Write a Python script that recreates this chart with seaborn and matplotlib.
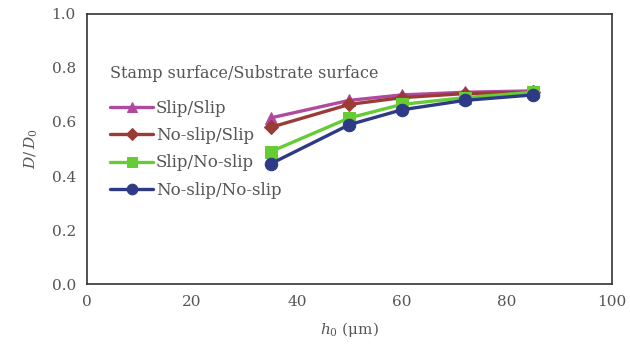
import matplotlib
matplotlib.use("Agg")
import matplotlib.pyplot as plt
import seaborn as sns
import pandas as pd

h0 = [35, 50, 60, 72, 85]
slip_slip = [0.615, 0.680, 0.700, 0.710, 0.715]
noslip_slip = [0.580, 0.665, 0.690, 0.705, 0.710]
slip_noslip = [0.490, 0.615, 0.665, 0.690, 0.710]
noslip_noslip = [0.445, 0.590, 0.645, 0.680, 0.700]
series_names = ["Slip/Slip", "No-slip/Slip", "Slip/No-slip", "No-slip/No-slip"]
legend_title = "Stamp surface/Substrate surface"
x_ticks = [0, 20, 40, 60, 80, 100]
y_ticks = [0.0, 0.2, 0.4, 0.6, 0.8, 1.0]

sns.set_style("white")
plt.rcParams['font.family'] = ['DejaVu Serif']
plt.rcParams['mathtext.fontset'] = 'dejavuserif'

rows = []
for name, vals in zip(series_names, [slip_slip, noslip_slip, slip_noslip, noslip_noslip]):
    for x, y in zip(h0, vals):
        rows.append({"h0": x, "D": y, "series": name})
df = pd.DataFrame(rows)

colors = {"Slip/Slip": "#B04A9E", "No-slip/Slip": "#9A3B36",
          "Slip/No-slip": "#66CC33", "No-slip/No-slip": "#2F3A86"}
markers = {"Slip/Slip": "^", "No-slip/Slip": "D",
           "Slip/No-slip": "s", "No-slip/No-slip": "o"}
msizes = {"Slip/Slip": 8, "No-slip/Slip": 7, "Slip/No-slip": 8, "No-slip/No-slip": 9}

fig = plt.figure(figsize=(6.3, 3.56), dpi=100)
ax = fig.add_axes([0.138, 0.202, 0.833, 0.759])

for name in series_names:
    sub = df[df.series == name]
    sns.lineplot(data=sub, x="h0", y="D", ax=ax, color=colors[name],
                 marker=markers[name], markersize=msizes[name], linewidth=2.4,
                 markeredgecolor=colors[name], label=name)

ax.set_xlim(0, 100)
ax.set_ylim(0, 1.0)
ax.set_xticks(x_ticks)
ax.set_yticks(y_ticks)
ax.set_xticklabels([str(t) for t in x_ticks])
ax.set_yticklabels([f"{t:.1f}" for t in y_ticks])
ax.tick_params(direction="in", length=4, width=1, colors="#333333",
               labelcolor="#555555", labelsize=11, pad=8)
for s in ax.spines.values():
    s.set_color("#333333")
    s.set_linewidth(1.2)

ax.set_xlabel(r"$h_0$ (μm)", fontsize=11, color="#555555", labelpad=8)
ax.set_ylabel(r"$D/\,D_0$", fontsize=11, color="#555555", labelpad=8)

ax.text(0.044, 0.778, legend_title, transform=ax.transAxes, fontsize=11.5,
        color="#555555", ha="left", va="center")

leg = ax.legend(loc="upper left", frameon=False,
                fontsize=12, handlelength=2.6, handletextpad=0.15,
                labelspacing=0.62, borderaxespad=0.0, borderpad=0.0,
                markerscale=0.85)
leg.set_bbox_to_anchor((0.044, 0.682), transform=ax.transAxes)
for t in leg.get_texts():
    t.set_color("#555555")

fig.savefig("out.png", dpi=100, facecolor="white")
